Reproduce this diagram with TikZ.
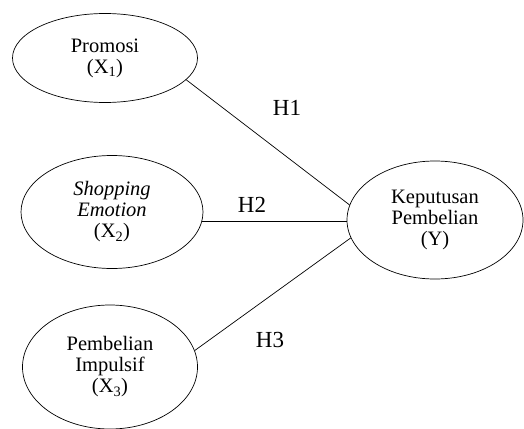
\documentclass[tikz,border=0pt]{standalone}
\usepackage{fontspec}
\setmainfont{Liberation Serif}
\usepackage{tikz}
\usetikzlibrary{shapes.geometric}
\usetikzlibrary{calc}

\begin{document}
\begin{tikzpicture}
    [
        x = 1pt, y = -1pt,
        construct/.style = {ellipse, draw = black, line width = .7pt, inner sep = 0pt, align = center,
                            font = \fontsize{20.5}{21}\selectfont},
        link/.style = {draw = black, line width = .7pt},
        hyp/.style = {inner sep = 0pt, font = \fontsize{23}{25}\selectfont}
    ]
                \useasboundingbox (0,0) rectangle (524,428);

                % Draw the constructs:
                \node [construct, minimum width = 185, minimum height = 89] (promosi) at (105,58)
                    {Promosi\\(X\textsubscript{1})};
                \node [construct, minimum width = 182, minimum height = 113] (emotion) at (112,212)
                    {\textit{Shopping}\\\textit{Emotion}\\(X\textsubscript{2})};
                \node [construct, minimum width = 175, minimum height = 124] (impulsif) at (110,367)
                    {Pembelian\\Impulsif\\(X\textsubscript{3})};
                \node [construct, minimum width = 176, minimum height = 118] (keputusan) at (435,220)
                    {Keputusan\\Pembelian\\(Y)};

                % Draw the hypotheses:
                \draw [link] (promosi.345) -- (keputusan.170);
                \draw [link] (emotion.354) -- (emotion.354 -| keputusan.west);
                \draw [link] (impulsif.11) -- (keputusan.192);

                \node [hyp] (H1) at (287,108) {H1};
                \node [hyp] (H2) at (252,205) {H2};
                \node [hyp] (H3) at (270,340) {H3};
            \end{tikzpicture}
\end{document}
